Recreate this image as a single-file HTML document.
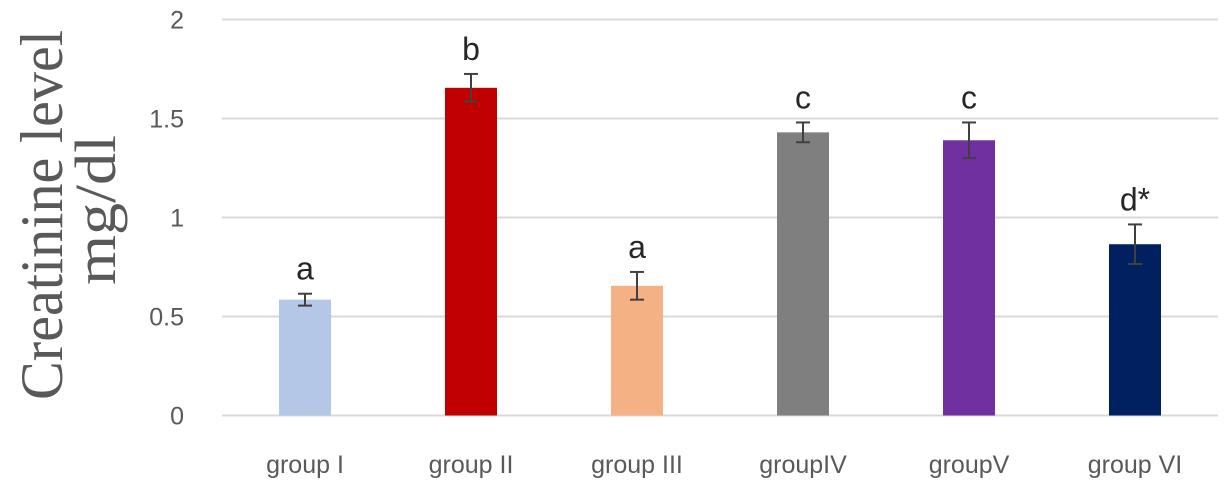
<!DOCTYPE html>
<html><head><meta charset="utf-8"><style>
html,body{margin:0;padding:0;background:#fff;}
svg{display:block;font-family:"Liberation Sans",sans-serif;}
</style></head><body>
<svg id="chart" width="1227" height="489" viewBox="0 0 1227 489">
<g id="grid"></g>
<g id="yticks"></g>
<g id="bars"></g>
<g id="xlabels"></g>
<g font-family="'Liberation Serif',serif" fill="#595959">
<text transform="translate(62,215) rotate(-90)" text-anchor="middle" font-size="60" textLength="370" lengthAdjust="spacingAndGlyphs">Creatinine level</text>
<text transform="translate(115,210) rotate(-90)" text-anchor="middle" font-size="58" textLength="150" lengthAdjust="spacingAndGlyphs">mg/dl</text>
</g>
</svg>
<script>
const categories=["group I","group II","group III","groupIV","groupV","group VI"];
const values=[0.585,1.655,0.655,1.43,1.39,0.865];
const errors=[0.03,0.07,0.07,0.05,0.09,0.1];
const letters=["a","b","a","c","c","d*"];
const colors=["#b4c7e7","#c00000","#f4b183","#7f7f7f","#7030a0","#002060"];
const yTicks=[0,0.5,1,1.5,2];
const ns="http://www.w3.org/2000/svg";
const x0=222,x1=1218,yBase=415.5,yTop=19.5,yMax=2;
const y=v=>yBase-(v/yMax)*(yBase-yTop);
const band=(x1-x0)/categories.length;
const xc=i=>x0+band*(i+0.5);
const bw=52;
function mk(tag,attrs,parent){const e=document.createElementNS(ns,tag);for(const k in attrs)e.setAttribute(k,attrs[k]);parent.appendChild(e);return e;}
const grid=document.getElementById('grid'),yt=document.getElementById('yticks'),bars=document.getElementById('bars'),xl=document.getElementById('xlabels');
yTicks.forEach(t=>{
  const l=mk('line',{x1:x0,x2:x1,y1:y(t),y2:y(t),stroke:'#d9d9d9','stroke-width':2},grid);
  
  
  const tx=mk('text',{x:184,y:y(t)+9,'text-anchor':'end','font-size':25,fill:'#595959'},yt);
  tx.textContent=String(t);
  
  
});
categories.forEach((c,i)=>{
  const cx=xc(i),v=values[i],e=errors[i];
  const r=mk('rect',{x:cx-bw/2,y:y(v),width:bw,height:yBase-y(v),fill:colors[i]},bars);
  
  
  const g=mk('g',{stroke:'#404040','stroke-width':2},bars);
  
  
  mk('line',{x1:cx,x2:cx,y1:y(v+e),y2:y(v-e)},g);
  mk('line',{x1:cx-7,x2:cx+7,y1:y(v+e),y2:y(v+e)},g);
  mk('line',{x1:cx-7,x2:cx+7,y1:y(v-e),y2:y(v-e)},g);
  const lt=mk('text',{x:cx,y:y(v+e)-14,'text-anchor':'middle','font-size':32,fill:'#262626'},bars);
  lt.textContent=letters[i];
  
  
  const xt=mk('text',{x:cx,y:473,'text-anchor':'middle','font-size':25,fill:'#595959'},xl);
  xt.textContent=c;
  
  
});
</script>
</body></html>
